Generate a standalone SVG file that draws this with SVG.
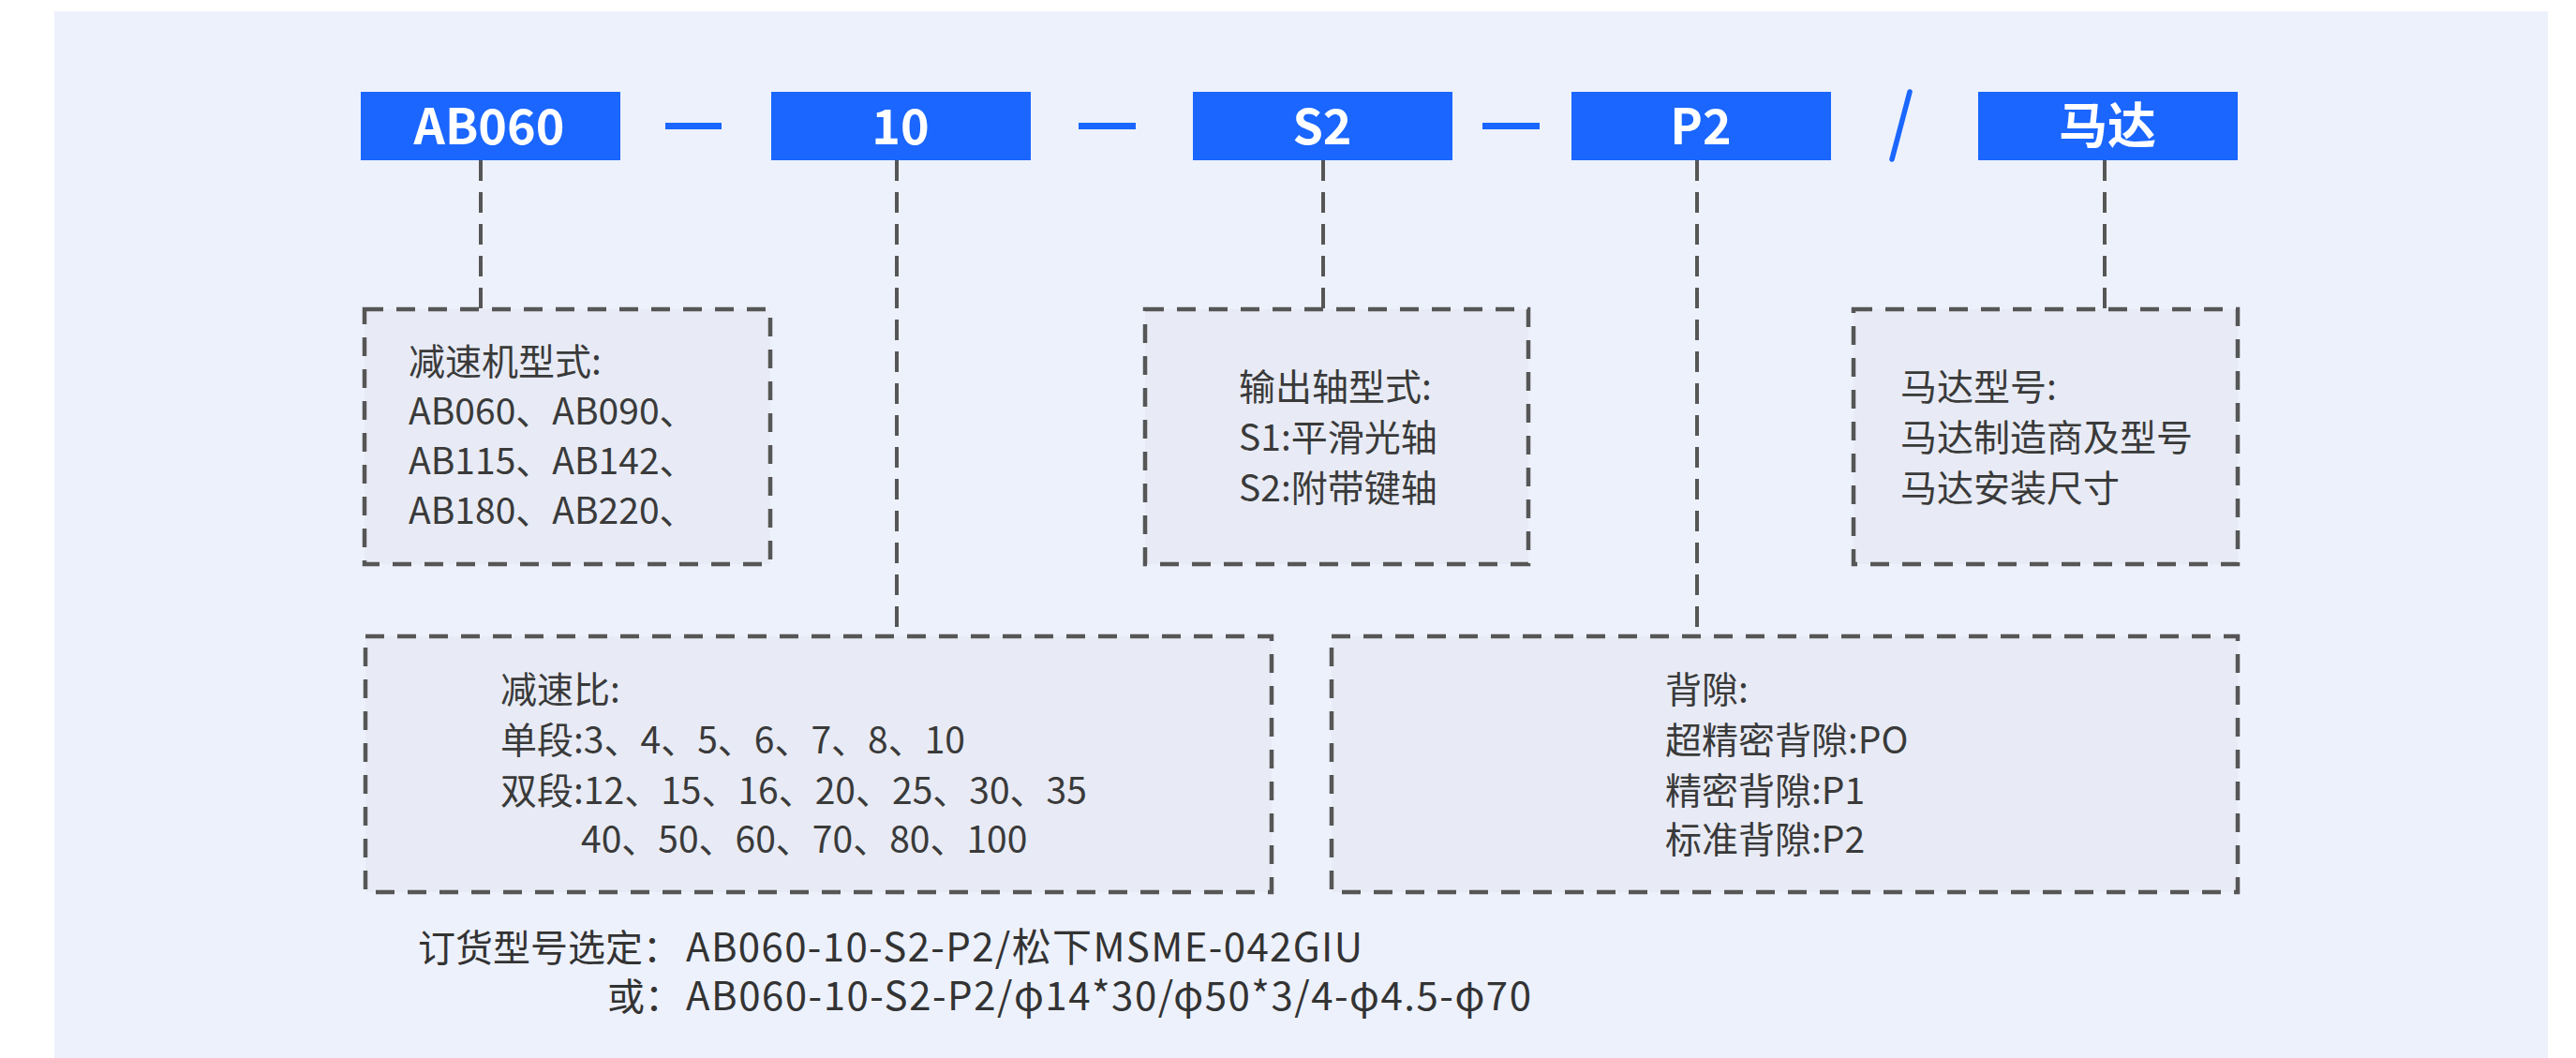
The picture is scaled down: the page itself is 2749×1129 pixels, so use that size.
<svg xmlns="http://www.w3.org/2000/svg" width="2749" height="1129" viewBox="0 0 2749 1129">
<defs>
<style>
.panel{fill:#EDF1FC}
.hd{fill:#1A66FF}
.hdt{fill:#FFFFFF;font-family:"Noto Sans CJK SC","Noto Sans",sans-serif;font-size:52px;font-weight:700;text-anchor:middle}
.sep{fill:#1A66FF}
.box{fill:#E8EBF5;stroke:#565656;stroke-width:4.5;stroke-dasharray:20 14}
.con{fill:none;stroke:#565656;stroke-width:4;stroke-dasharray:22 12}
.bt{fill:#3A3A3A;font-family:"Noto Sans CJK SC","Noto Sans",sans-serif;font-size:39px}
.ft{fill:#333333;font-family:"Noto Sans CJK SC","Noto Sans",sans-serif;font-size:40px}
.fl{font-size:42px}
</style>
</defs>
<rect x="0" y="0" width="2749" height="1129" fill="#FFFFFF"/>
<rect class="panel" x="58" y="12" width="2661" height="1130"/>

<g id="connectors">
<line class="con" x1="513" y1="171" x2="513" y2="330"/>
<line class="con" x1="957" y1="171" x2="957" y2="679"/>
<line class="con" x1="1412" y1="171" x2="1412" y2="330"/>
<line class="con" x1="1811" y1="171" x2="1811" y2="679"/>
<line class="con" x1="2246" y1="171" x2="2246" y2="330"/>
</g>

<g id="separators">
<rect class="sep" x="710" y="131" width="60" height="7"/>
<rect class="sep" x="1151" y="131" width="61" height="7"/>
<rect class="sep" x="1582" y="131" width="61" height="7"/>
<line x1="2038" y1="98" x2="2019" y2="170" stroke="#1A66FF" stroke-width="5.5" stroke-linecap="round"/>
</g>

<g id="node-ab060">
<rect class="hd" x="385" y="98" width="277" height="73"/>
<text class="hdt" x="522" y="154">AB060</text>
</g>
<g id="node-10">
<rect class="hd" x="823" y="98" width="277" height="73"/>
<text class="hdt" x="961" y="154">10</text>
</g>
<g id="node-s2">
<rect class="hd" x="1273" y="98" width="277" height="73"/>
<text class="hdt" x="1411" y="154">S2</text>
</g>
<g id="node-p2">
<rect class="hd" x="1677" y="98" width="277" height="73"/>
<text class="hdt" x="1815" y="154">P2</text>
</g>
<g id="node-motor">
<rect class="hd" x="2111" y="98" width="277" height="73"/>
<text class="hdt" x="2249" y="153">马达</text>
</g>

<g id="box-reducer-type">
<rect class="box" x="389" y="330" width="433" height="272"/>
<text class="bt" x="436" y="400">减速机型式:</text>
<text class="bt" x="436" y="453">AB060、AB090、</text>
<text class="bt" x="436" y="506">AB115、AB142、</text>
<text class="bt" x="436" y="559">AB180、AB220、</text>
</g>

<g id="box-output-shaft">
<rect class="box" x="1222" y="330" width="409" height="272"/>
<text class="bt" x="1322" y="427">输出轴型式:</text>
<text class="bt" x="1322" y="481">S1:平滑光轴</text>
<text class="bt" x="1322" y="535">S2:附带键轴</text>
</g>

<g id="box-motor">
<rect class="box" x="1978" y="330" width="410" height="272"/>
<text class="bt" x="2028" y="427">马达型号:</text>
<text class="bt" x="2028" y="481">马达制造商及型号</text>
<text class="bt" x="2028" y="535">马达安装尺寸</text>
</g>

<g id="box-ratio">
<rect class="box" x="390" y="679" width="967" height="273"/>
<text class="bt" x="534" y="750">减速比:</text>
<text class="bt" x="534" y="804">单段:3、4、5、6、7、8、10</text>
<text class="bt" x="534" y="858">双段:12、15、16、20、25、30、35</text>
<text class="bt" x="620" y="910">40、50、60、70、80、100</text>
</g>

<g id="box-backlash">
<rect class="box" x="1421" y="679" width="967" height="273"/>
<text class="bt" x="1777" y="750">背隙:</text>
<text class="bt" x="1777" y="804">超精密背隙:PO</text>
<text class="bt" x="1777" y="858">精密背隙:P1</text>
<text class="bt" x="1777" y="910">标准背隙:P2</text>
</g>

<g id="order-example">
<text class="ft" x="446" y="1026">订货型号选定：<tspan class="fl" x="732" textLength="722" lengthAdjust="spacing">AB060-10-S2-P2/松下MSME-042GIU</tspan></text>
<text class="ft" x="648" y="1078">或：<tspan class="fl" x="732" textLength="902" lengthAdjust="spacing">AB060-10-S2-P2/φ14*30/φ50*3/4-φ4.5-φ70</tspan></text>
</g>
</svg>
